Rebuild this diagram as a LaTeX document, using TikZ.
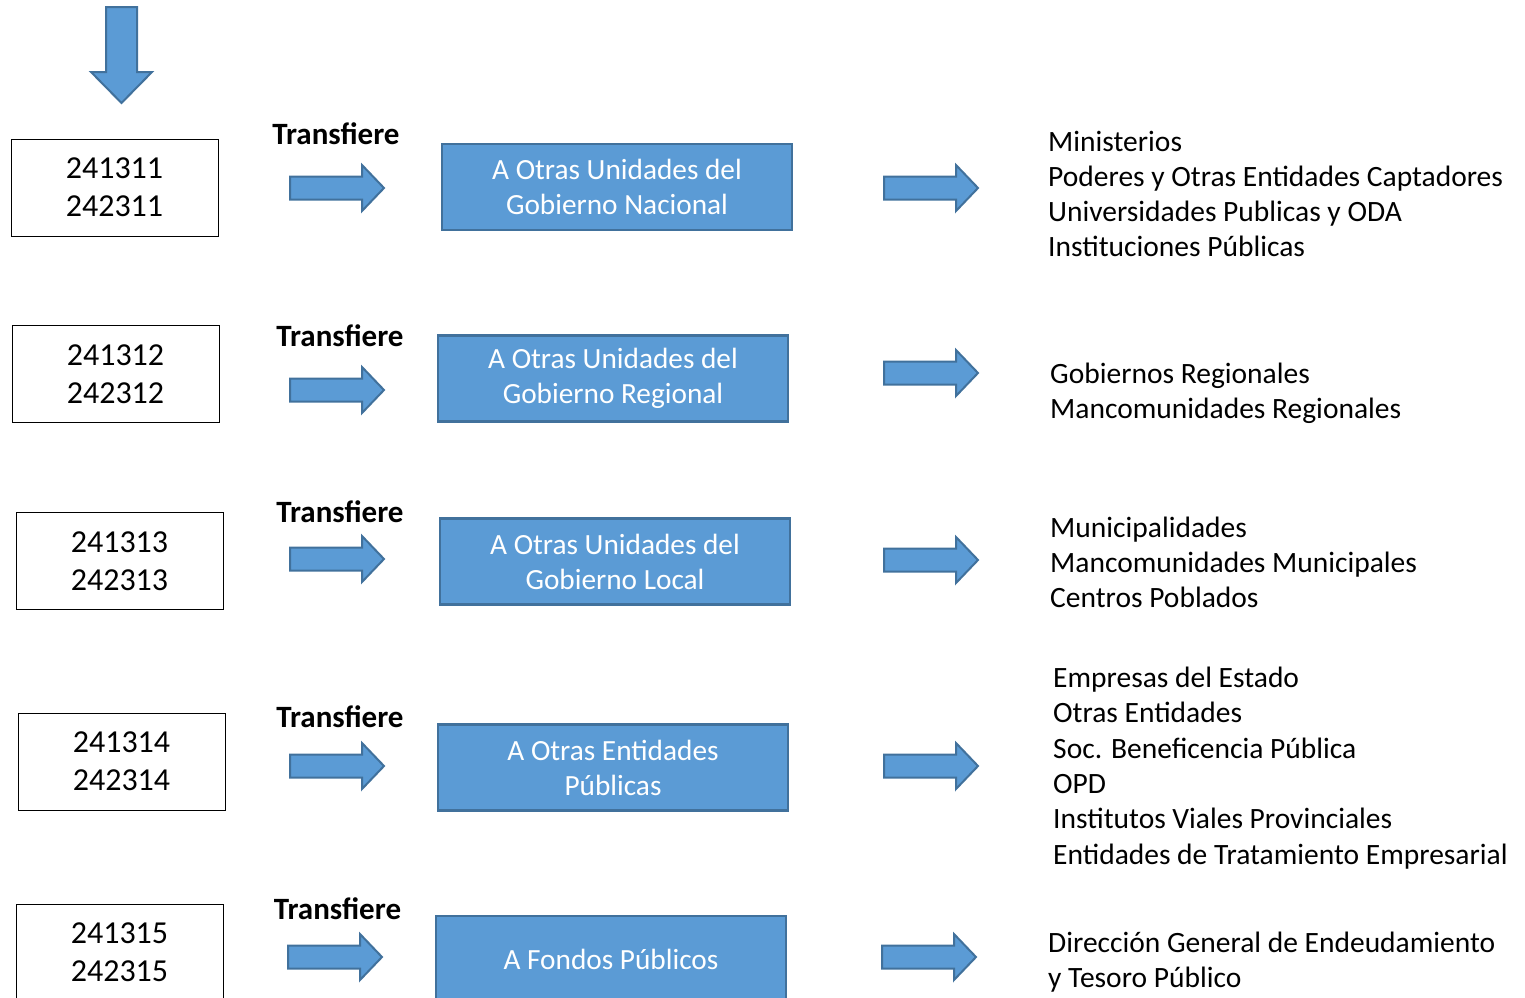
\documentclass[tikz,border=0pt]{standalone}
\usepackage{fontspec}
\setmainfont{Carlito}
\definecolor{blueF}{HTML}{5B9BD5}
\definecolor{blueD}{HTML}{41719C}
\tikzset{
  numbox/.style={draw=black, line width=1pt, minimum width=207pt, minimum height=97pt, align=center, inner sep=0pt, font=\fontsize{32}{38}\selectfont},
  bluebox/.style={draw=blueD, fill=blueF, line width=2.2pt, text=white, minimum width=350pt, minimum height=86pt, align=center, inner sep=0pt, font=\fontsize{29.3}{35}\selectfont},
  transf/.style={inner sep=0pt, font=\bfseries\fontsize{31}{36}\selectfont},
  listtext/.style={anchor=west, align=left, inner sep=0pt, font=\fontsize{29.5}{35.3}\selectfont},
  arr/.style={draw=blueD, fill=blueF, line width=2pt, line join=miter},
  rarrow/.pic={\path[arr] (-47,-11.5) -- (25,-11.5) -- (25,-23) -- (47,0) -- (25,23) -- (25,11.5) -- (-47,11.5) -- cycle;},
  darrow/.pic={\path[arr] (-15.5,0) -- (15.5,0) -- (15.5,65) -- (30.5,65) -- (0,96) -- (-30.5,65) -- (-15.5,65) -- cycle;}
}
\begin{document}
\begin{tikzpicture}[x=1pt,y=-1pt]
\useasboundingbox (0,0) rectangle (1525,997);
% top arrow
\pic at (121.5,7) {darrow};
% row 1
\node[numbox] (n1) at (114.5,187.5) {241311\\242311};
\node[transf] (t1) at (336,134) {Transfiere};
\pic at (337,188) {rarrow};
\node[bluebox] (b1) at (617,187) {A Otras Unidades del\\Gobierno Nacional};
\pic at (931,188) {rarrow};
\node[listtext] (l1) at (1048,194) {Ministerios\\Poderes y Otras Entidades Captadores\\Universidades Publicas y ODA\\Instituciones Públicas};
% row 2
\node[numbox] (n2) at (115.5,374) {241312\\242312};
\node[transf] (t2) at (340,336) {Transfiere};
\pic at (337,390) {rarrow};
\node[bluebox] (b2) at (613,378.5) {A Otras Unidades del\\Gobierno Regional};
\pic at (931,373) {rarrow};
\node[listtext] (l2) at (1050,393.5) {Gobiernos Regionales\\Mancomunidades Regionales};
% row 3
\node[numbox] (n3) at (119.5,561) {241313\\242313};
\node[transf] (t3) at (340,512) {Transfiere};
\pic at (337,559) {rarrow};
\node[bluebox] (b3) at (615,561.5) {A Otras Unidades del\\Gobierno Local};
\pic at (931,560) {rarrow};
\node[listtext] (l3) at (1050,562.5) {Municipalidades\\Mancomunidades Municipales\\Centros Poblados};
% row 4
\node[numbox] (n4) at (121.5,761.5) {241314\\242314};
\node[transf] (t4) at (340,717) {Transfiere};
\pic at (337,766) {rarrow};
\node[bluebox] (b4) at (613,767.5) {A Otras Entidades\\Públicas};
\pic at (931,766) {rarrow};
\node[listtext] (l4) at (1053,768) {Empresas del Estado\\Otras Entidades\\Soc. Beneficencia Pública\\OPD\\Institutos Viales Provinciales\\Entidades de Tratamiento Empresarial};
% row 5
\node[numbox] (n5) at (119.5,952.5) {241315\\242315};
\node[transf] (t5) at (337.5,909) {Transfiere};
\pic at (335,957) {rarrow};
\node[bluebox] (b5) at (611,959) {A Fondos Públicos};
\pic at (929,957) {rarrow};
\node[listtext] (l5) at (1048,962) {Dirección General de Endeudamiento\\y Tesoro Público};
\end{tikzpicture}
\end{document}
